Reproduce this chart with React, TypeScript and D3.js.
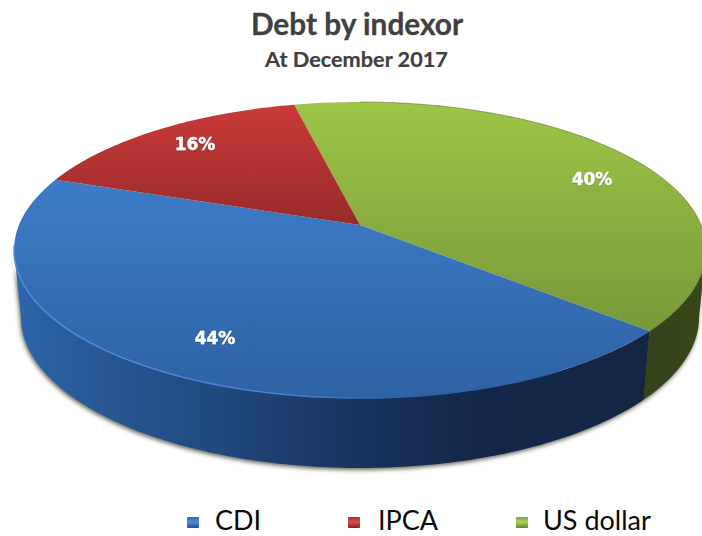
import React from "react";
import * as d3 from "d3";

// Debt composition at December 2017, in drawing order around the pie.
const categories = ["US dollar", "CDI", "IPCA"];
const shares = [40, 44, 16];
const legendOrder = ["CDI", "IPCA", "US dollar"];

const W = 702;
const H = 536;

// Tilted disc: a perspective projection of the unit circle onto the page.
const hub = { x: 360, y: 225 };
const persp = 0.169;
const spanX = 341;
const spanY = 143.8;
const wallDepth = 67;
const wallScaleX = 0.98;
const wallScaleY = 1.02;
const ellipseMidY = 250;

const rad = (d: number) => (d * Math.PI) / 180;

// Angle is measured clockwise from 12 o'clock, as in d3.pie.
function topPoint(theta: number, r = 1): [number, number] {
  const u = r * Math.sin(theta);
  const v = r * Math.cos(theta);
  const w = 1 + persp * v;
  return [hub.x + (spanX * u) / w, hub.y - (spanY * v) / w];
}

function floorPoint(theta: number): [number, number] {
  const [x, y] = topPoint(theta);
  return [
    hub.x + (x - hub.x) * wallScaleX,
    ellipseMidY + (y - ellipseMidY) * wallScaleY + wallDepth,
  ];
}

const sweep = (a: number, b: number) => {
  const n = Math.max(2, Math.ceil(Math.abs(b - a) / rad(1)));
  return d3.range(n + 1).map((i) => a + ((b - a) * i) / n);
};

const line = d3.line();

const pie = d3
  .pie<number>()
  .sort(null)
  .startAngle(rad(-13))
  .endAngle(rad(347));
const arcs = pie(shares);

// Only the near side of the rim can be seen.
const frontFrom = Math.PI / 2 + Math.asin(persp);
const frontTo = (3 * Math.PI) / 2 - Math.asin(persp);

const topFill: Record<string, string> = {
  "US dollar": "url(#topGreen)",
  CDI: "url(#topBlue)",
  IPCA: "url(#topRed)",
};
const wallFill: Record<string, string> = {
  "US dollar": "url(#wallGreen)",
  CDI: "url(#wallBlue)",
  IPCA: "#6e1f1f",
};
const swatch: Record<string, string> = {
  CDI: "url(#swBlue)",
  IPCA: "url(#swRed)",
  "US dollar": "url(#swGreen)",
};

const labelAnchor: Record<string, [number, number]> = {
  "US dollar": [592, 185],
  CDI: [215, 344],
  IPCA: [195, 150],
};
const legendX: Record<string, [number, number]> = {
  CDI: [187, 215],
  IPCA: [348, 378],
  "US dollar": [516, 543],
};
const legendBaseline = 530;
const swatchTop = 517;

const sans = "Lato, 'Open Sans', sans-serif";

function Grad({
  id,
  stops,
  horizontal,
  from,
  to,
}: {
  id: string;
  stops: [number, string][];
  horizontal?: boolean;
  from: number;
  to: number;
}) {
  const dims = horizontal
    ? { x1: from, x2: to, y1: 0, y2: 0 }
    : { x1: 0, x2: 0, y1: from, y2: to };
  return (
    <linearGradient id={id} gradientUnits="userSpaceOnUse" {...dims}>
      {stops.map(([o, c]) => (
        <stop key={o} offset={o} stopColor={c} />
      ))}
    </linearGradient>
  );
}

export default function App() {
  const outerFloor = sweep(frontFrom, frontTo).map(floorPoint);
  const outerTop = sweep(frontFrom, frontTo).map((t) => topPoint(t));
  const rimHighlight = sweep(rad(150), rad(262)).map((t) => topPoint(t));

  return (
    <svg
      width={W}
      height={H}
      viewBox={`0 0 ${W} ${H}`}
      style={{ position: "absolute", left: 0, top: 0, background: "#fff" }}
    >
      <defs>
        <Grad id="topBlue" from={175} to={398} stops={[[0, "#3e7cc9"], [1, "#2e62a3"]]} />
        <Grad id="topRed" from={103} to={226} stops={[[0, "#ca3b39"], [1, "#972a2a"]]} />
        <Grad id="topGreen" from={103} to={335} stops={[[0, "#9dc546"], [1, "#779839"]]} />
        <Grad
          id="wallBlue"
          horizontal
          from={20}
          to={650}
          stops={[
            [0, "#2c65a9"],
            [0.15, "#265591"],
            [0.33, "#20487c"],
            [0.52, "#193460"],
            [0.72, "#13274a"],
            [1, "#122542"],
          ]}
        />
        <Grad
          id="wallGreen"
          horizontal
          from={648}
          to={700}
          stops={[[0, "#34431a"], [1, "#374718"]]}
        />
        <Grad id="rimFade" horizontal from={20} to={400} stops={[[0, "#4f8fdc"], [0.75, "#4283d0"], [1, "#2e62a3"]]} />
        <Grad id="swBlue" from={swatchTop} to={swatchTop + 11} stops={[[0, "#2f68ad"], [0.45, "#4d8ddb"], [1, "#254f86"]]} />
        <Grad id="swRed" from={swatchTop} to={swatchTop + 11} stops={[[0, "#a52e2d"], [0.45, "#d65250"], [1, "#7f2322"]]} />
        <Grad id="swGreen" from={swatchTop} to={swatchTop + 11} stops={[[0, "#7f9f3c"], [0.45, "#add45a"], [1, "#64802e"]]} />
        <filter id="soft" x="-5%" y="-5%" width="110%" height="110%">
          <feGaussianBlur stdDeviation="2" />
        </filter>
        <filter id="labelShadow" x="-30%" y="-30%" width="160%" height="160%">
          <feDropShadow dx="0" dy="0.5" stdDeviation="0.7" floodColor="#000" floodOpacity="0.45" />
        </filter>
      </defs>

      {/* Shadow under the near rim */}
      <path
        d={line([...outerTop, ...outerFloor.slice().reverse()].map(([x, y]) => [x - 1, y + 2]) as [number, number][]) + "Z"}
        fill="#6b6b60"
        filter="url(#soft)"
      />

      {/* Rim walls */}
      {arcs.map((a) => {
        const from = Math.max(a.startAngle, frontFrom);
        const to = Math.min(a.endAngle, frontTo);
        if (from >= to) return null;
        const angles = sweep(from, to);
        const ring = [...angles.map((t) => topPoint(t)), ...angles.slice().reverse().map(floorPoint)];
        return <path key={a.index} d={line(ring)! + "Z"} fill={wallFill[categories[a.index]]} />;
      })}

      {/* Top face */}
      {arcs.map((a) => {
        const ring = [[hub.x, hub.y] as [number, number], ...sweep(a.startAngle, a.endAngle).map((t) => topPoint(t))];
        return <path key={a.index} d={line(ring)! + "Z"} fill={topFill[categories[a.index]]} />;
      })}

      <path d={line(rimHighlight)!} fill="none" stroke="url(#rimFade)" strokeWidth={1.5} />
      <path
        d={line(sweep(rad(0), rad(131)).map((t) => topPoint(t)))!}
        fill="none"
        stroke="#55702a"
        strokeWidth={0.8}
        opacity={0.7}
      />

      {/* Share labels */}
      {arcs.map((a) => {
        const name = categories[a.index];
        const [x, y] = labelAnchor[name];
        return (
          <text
            key={a.index}
            x={x}
            y={y}
            textAnchor="middle"
            fontFamily="'DejaVu Sans', sans-serif"
            fontWeight={700}
            fontSize={17}
            fill="#fff"
            stroke="#fff"
            strokeWidth={0.4}
            filter="url(#labelShadow)"
          >
            {`${a.data}%`}
          </text>
        );
      })}

      {/* Headings */}
      <text x={357} y={35} textAnchor="middle" fontFamily={sans} fontWeight={700} fontSize={29.8} fill="#404040" stroke="#404040" strokeWidth={0.3}>
        Debt by indexor
      </text>
      <text x={356.5} y={67} textAnchor="middle" fontFamily={sans} fontWeight={700} fontSize={21.7} fill="#404040" stroke="#404040" strokeWidth={0.2}>
        At December 2017
      </text>

      {/* Legend */}
      {legendOrder.map((name) => {
        const [sx, tx] = legendX[name];
        return (
          <g key={name}>
            <rect x={sx} y={swatchTop} width={12} height={11} rx={1} fill={swatch[name]} />
            <text x={tx} y={legendBaseline} fontFamily={sans} fontSize={27} fill="#0a0a0a">
              {name}
            </text>
          </g>
        );
      })}
    </svg>
  );
}
